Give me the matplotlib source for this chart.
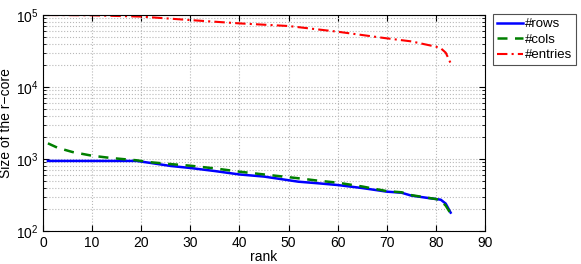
import matplotlib
matplotlib.use('Agg')
import matplotlib.pyplot as plt

plt.rcParams['font.family'] = ['Liberation Sans', 'DejaVu Sans']
plt.rcParams['mathtext.fontset'] = 'custom'
plt.rcParams['mathtext.rm'] = 'Liberation Sans'

# values (rank -> size)
rank_rows = [1, 5, 10, 15, 19, 22, 26, 30, 35, 40, 45, 52, 56, 60, 65, 70, 73, 75, 78, 80, 81, 82, 83]
rows = [940, 940, 940, 940, 940, 880, 800, 750, 680, 610, 570, 484, 460, 435, 395, 352, 340, 310, 290, 278, 272, 240, 180]

rank_cols = [1, 3, 6, 10, 14, 19, 22, 26, 30, 35, 40, 45, 52, 56, 60, 65, 70, 73, 75, 78, 80, 81, 82, 83]
cols = [1650, 1430, 1250, 1110, 1030, 960, 900, 850, 807, 740, 667, 610, 540, 500, 469, 415, 358, 345, 315, 292, 278, 265, 225, 175]

rank_entries = [1, 10, 20, 30, 40, 50, 60, 70, 75, 80, 81, 82, 83]
entries = [100000, 99000, 95000, 85000, 76500, 70300, 58600, 47400, 43000, 36300, 34500, 30000, 21400]

fs = 10

fig = plt.figure(figsize=(5.81, 2.64), dpi=100)
ax = fig.add_axes([43/581, 33/264, 442/581, 216/264])

ax.semilogy(rank_rows, rows, color='#0000ff', lw=1.8, label='#rows')
ax.semilogy(rank_cols, cols, color='#007f00', lw=1.8, ls=(0, (4, 3)), label='#cols')
ax.semilogy(rank_entries, entries, color='#ff0000', lw=1.5, ls=(0, (5, 2, 1, 2)), label='#entries')

ax.set_xlim(0, 90)
ax.set_ylim(1e2, 1e5)
ax.set_xticks(range(0, 91, 10))
ax.grid(True, which='major', ls=':', color='#b8b8b8', lw=0.8)
ax.grid(True, which='minor', axis='y', ls=':', color='#b8b8b8', lw=0.8)
ax.tick_params(which='both', direction='in', top=True, right=True, labelsize=fs)
ax.tick_params(which='major', length=4)
ax.tick_params(which='minor', length=2)
for s in ax.spines.values():
    s.set_linewidth(0.8)

ax.set_xlabel('rank', fontsize=fs, labelpad=0)
ax.set_ylabel('Size of the r\u2212core', fontsize=fs, labelpad=2)

leg = ax.legend(loc='upper left', bbox_to_anchor=(493/581, 1 - 14/264),
                bbox_transform=fig.transFigure, fontsize=9.5, fancybox=False,
                framealpha=1, edgecolor='#505050', handlelength=2.0,
                handletextpad=0.1, borderpad=0.3, labelspacing=0.25,
                borderaxespad=0)
leg.get_frame().set_linewidth(0.8)

fig.savefig('out.png', dpi=100)
